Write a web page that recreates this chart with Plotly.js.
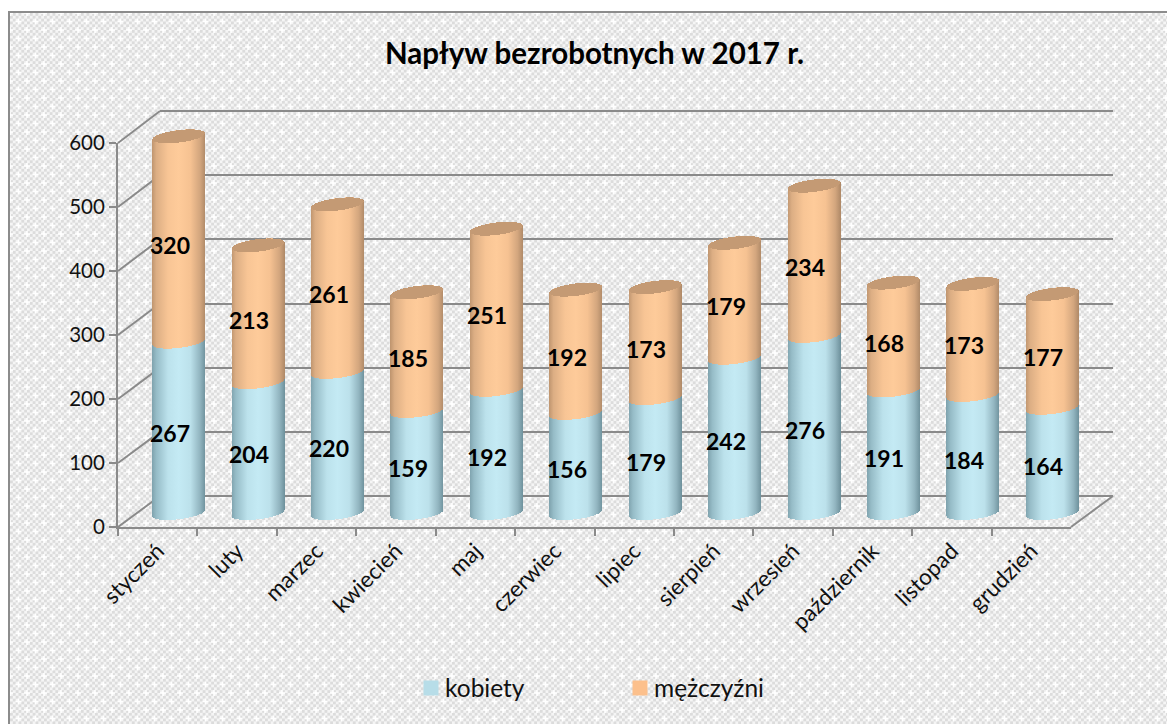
<!DOCTYPE html>
<html lang="pl">
<head>
<meta charset="utf-8">
<script src="https://cdn.plot.ly/plotly-3.0.1.min.js"></script>
<style>
html,body{margin:0;padding:0;background:#fff;width:1167px;height:724px;overflow:hidden}
#frame{position:absolute;left:8px;top:11px;width:1159px;height:713px;box-sizing:border-box;border-left:2px solid #8c8c8c;border-top:2px solid #8c8c8c}
#chart{position:absolute;left:0;top:0;width:1167px;height:724px}
</style>
</head>
<body>
<div id="frame"></div>
<div id="chart"></div>
<script>
const months = ["styczeń","luty","marzec","kwiecień","maj","czerwiec","lipiec","sierpień","wrzesień","październik","listopad","grudzień"];
const kobiety = [267,204,220,159,192,156,179,242,276,191,184,164];
const mezczyzni = [320,213,261,185,251,192,173,179,234,168,173,177];
const yTicks = [0,100,200,300,400,500,600];

// background tile
const tile = document.createElement('canvas'); tile.width = 17; tile.height = 17;
const c = tile.getContext('2d');
c.fillStyle = '#f5f5f5'; c.fillRect(0,0,17,17);
c.fillStyle = '#dcdcdc';
const cell = 17/6;
for (let i=0;i<6;i++) for (let j=0;j<6;j++) if ((i+j)%2) c.fillRect(i*cell,j*cell,cell,cell);
c.fillStyle = '#ffffff';
for (const [px,py] of [[0,0],[17,0],[0,17],[17,17],[8.5,8.5]]) { c.fillRect(px-3,py-0.8,6,1.6); c.fillRect(px-0.8,py-3,1.6,6); }
document.getElementById('frame').style.backgroundImage = 'url('+tile.toDataURL()+')';

const W = 1167, H = 724;
const fx = p => p/W, fy = p => 1-p/H;
const GRID = '#8a8a8a', FONT = 'Lato, Carlito, Calibri, sans-serif';
const front = {x0:118,x1:1071,y0:527,y1:143};
const mid   = {x0:139,x1:1092,y0:513,y1:128};
const back  = {x0:160,x1:1113,y0:496,y1:111};
const xDom = b => [fx(b.x0),fx(b.x1)], yDom = b => [fy(b.y0),fy(b.y1)];
const yPx = (b,v) => b.y0+(b.y1-b.y0)*v/600;
const pad = 30;
const padded = b => { const p = pad*(b.y0-b.y1)/600; return [fy(b.y0+p),fy(b.y1-p)]; };

const line = (x0,y0,x1,y1) => ({type:'line',xref:'paper',yref:'paper',layer:'below',x0:fx(x0),y0:fy(y0),x1:fx(x1),y1:fy(y1),line:{color:GRID,width:2}});
const shapes = yTicks.map(v => line(front.x0,yPx(front,v),back.x0,yPx(back,v)));
shapes.push(line(front.x1,front.y0,back.x1,back.y0));

const labels = [];
months.forEach((m,i)=>{
  [[kobiety[i]/2],[kobiety[i]+mezczyzni[i]/2]].forEach(([v],k)=>{
    labels.push({xref:'x2',yref:'y2',x:m,y:v,text:String(k?mezczyzni[i]:kobiety[i]),showarrow:false,xshift:-9,yshift:-6,
      font:{family:FONT,size:23,color:'#000',weight:700}});
  });
});

const data = [
 {type:'scatter',mode:'markers',x:months,y:months.map(()=>null),xaxis:'x',yaxis:'y',showlegend:false,hoverinfo:'skip'},
 {type:'bar',name:'kobiety',x:months,y:kobiety,xaxis:'x2',yaxis:'y2',cliponaxis:false,marker:{color:'#b7dde8',line:{width:0}},hoverinfo:'skip'},
 {type:'bar',name:'mężczyźni',x:months,y:mezczyzni,xaxis:'x2',yaxis:'y2',cliponaxis:false,marker:{color:'#fcc08c',line:{width:0}},hoverinfo:'skip'},
 {type:'scatter',mode:'markers',x:months,y:months.map(()=>null),xaxis:'x3',yaxis:'y3',showlegend:false,hoverinfo:'skip'}
];
const hidden = {showticklabels:false,ticks:'',showline:false,zeroline:false};
const layout = {
 width:W,height:H,margin:{l:0,r:0,t:0,b:0},paper_bgcolor:'rgba(0,0,0,0)',plot_bgcolor:'rgba(0,0,0,0)',
 font:{family:FONT,color:'#000'},barmode:'stack',bargap:0.333,
 title:{text:'<b>Napływ bezrobotnych w 2017 r.</b>',font:{family:FONT,size:29.5,color:'#000'},x:fx(594.5),xanchor:'center',y:fy(54),yanchor:'middle'},
 xaxis:{domain:xDom(back),anchor:'y',type:'category',categoryarray:months,categoryorder:'array',range:[-.5,11.5],showgrid:false,...hidden},
 yaxis:{domain:padded(back),anchor:'x',range:[-pad,600+pad],tickvals:yTicks,showgrid:true,gridcolor:GRID,gridwidth:2,...hidden},
 xaxis2:{domain:xDom(mid),anchor:'y2',type:'category',categoryarray:months,categoryorder:'array',range:[-.5,11.5],showgrid:false,...hidden},
 yaxis2:{domain:padded(mid),anchor:'x2',range:[-pad,600+pad],showgrid:false,...hidden},
 xaxis3:{domain:xDom(front),anchor:'y3',type:'category',categoryarray:months,categoryorder:'array',range:[-.5,11.5],tickson:'boundaries',
   ticks:'outside',ticklen:7,tickwidth:2,tickcolor:GRID,showline:true,linecolor:GRID,linewidth:2,showgrid:false,zeroline:false,tickangle:-45,tickfont:{family:FONT,size:22.5,color:'#111'}},
 yaxis3:{domain:yDom(front),anchor:'x3',range:[0,600],tickvals:yTicks,ticktext:yTicks.map(String),ticks:'outside',ticklen:7,tickwidth:2,tickcolor:GRID,showline:true,linecolor:GRID,linewidth:2,showgrid:false,zeroline:false,tickfont:{family:FONT,size:20.5,color:'#111'}},
 legend:{orientation:'h',x:fx(405),xanchor:'left',y:fy(688),yanchor:'middle',traceorder:'normal',entrywidth:164,entrywidthmode:'pixels',font:{family:FONT,size:24.5,color:'#111'},bgcolor:'rgba(0,0,0,0)'},
 shapes:shapes,annotations:labels,showlegend:true
};

function grad(defs,id,stops){
  const NS='http://www.w3.org/2000/svg';
  const g=document.createElementNS(NS,'linearGradient');g.setAttribute('id',id);
  g.setAttribute('x1','0');g.setAttribute('x2','1');g.setAttribute('y1','0');g.setAttribute('y2','0');
  stops.forEach(([o,col])=>{const s=document.createElementNS(NS,'stop');s.setAttribute('offset',o);s.setAttribute('stop-color',col);g.appendChild(s);});
  defs.appendChild(g);
}
Plotly.newPlot('chart',data,layout,{displayModeBar:false}).then(gd=>{
  const NS='http://www.w3.org/2000/svg';
  const svg=gd.querySelector('svg.main-svg');
  const defs=svg.querySelector('defs')||svg.insertBefore(document.createElementNS(NS,'defs'),svg.firstChild);
  grad(defs,'cylBlue',[[0,'#7fa3ae'],[.08,'#96bcc7'],[.3,'#bce2ec'],[.5,'#c4eaf4'],[.72,'#bce1eb'],[.9,'#92b5c0'],[1,'#6f929d']]);
  grad(defs,'cylOrange',[[0,'#c09670'],[.08,'#dcae84'],[.3,'#f8c595'],[.5,'#fecb9a'],[.72,'#f6c292'],[.9,'#d3a67e'],[1,'#b08a68']]);
  const rx=26.5, ry=6.2, rot=-7;
  const tiltY=rx*Math.sin(rot*Math.PI/180);
  gd.querySelectorAll('.barlayer .trace.bars').forEach((tr,ti)=>{
    tr.querySelectorAll('path').forEach(p=>{
      if(!p.getAttribute('d')) return;
      const b=p.getBBox(), cx=b.x+b.width/2, top=b.y, bot=b.y+b.height;
      p.setAttribute('d',`M${cx-rx},${top-tiltY} A${rx},${ry} ${rot} 0 1 ${cx+rx},${top+tiltY} L${cx+rx},${bot+tiltY} A${rx},${ry} ${rot} 0 1 ${cx-rx},${bot-tiltY} Z`);
      p.style.fill=`url(#${ti?'cylOrange':'cylBlue'})`;
      if(ti){
        const e=document.createElementNS(NS,'ellipse');
        e.setAttribute('cx',cx);e.setAttribute('cy',top);e.setAttribute('rx',rx);e.setAttribute('ry',ry);
        e.setAttribute('transform',`rotate(${rot} ${cx} ${top})`);
        e.setAttribute('fill','#c49a74');
        p.parentNode.appendChild(e);
      }
    });
  });
  gd.querySelectorAll('.legend .legendbar path, .legend .legendpoints path').forEach(p=>{
    if(p.getAttribute('d')) p.setAttribute('d','M7.5,7.5H-7.5V-7.5H7.5Z');
  });
  gd.querySelectorAll('.legend .legendpoints').forEach(g=>g.setAttribute('transform','translate(6,0)'));
});
</script>
</body>
</html>
